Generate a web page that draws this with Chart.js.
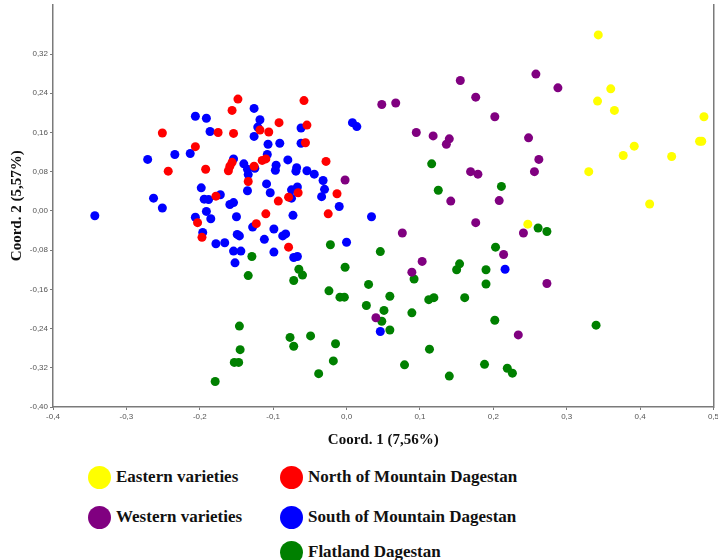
<!DOCTYPE html>
<html>
<head>
<meta charset="utf-8">
<script src="https://cdn.jsdelivr.net/npm/chart.js@4.4.1/dist/chart.umd.min.js"></script>
<style>
  html, body { margin: 0; padding: 0; background: #fff; }
  body { width: 718px; height: 560px; position: relative; overflow: hidden; }
  #plot { position: absolute; left: 0; top: 0; }
  .lg-item { position: absolute; height: 24px; display: flex; align-items: center;
             font-family: "Liberation Serif", "Times New Roman", serif; font-weight: bold;
             font-size: 17px; color: #111; white-space: nowrap; }
  .lg-dot { width: 23px; height: 23px; border-radius: 50%; margin-right: 5px; flex: none; }
</style>
</head>
<body>
<canvas id="plot" width="718" height="455"></canvas>
<div id="legend"></div>
<script>
// tick values
const xTicks = [-0.4, -0.3, -0.2, -0.1, 0.0, 0.1, 0.2, 0.3, 0.4, 0.5];
const yTicks = [-0.40, -0.32, -0.24, -0.16, -0.08, 0.00, 0.08, 0.16, 0.24, 0.32];

const groupNames = ["Eastern varieties", "Western varieties", "North of Mountain Dagestan",
                    "South of Mountain Dagestan", "Flatland Dagestan"];
const groupColors = ["#ffff00", "#800080", "#ff0000", "#0000ff", "#008000"];

// [coord1, coord2]
const eastern = [
  [0.343, 0.359], [0.360, 0.249], [0.342, 0.224], [0.365, 0.205], [0.487, 0.192],
  [0.481, 0.142], [0.484, 0.142], [0.392, 0.132], [0.377, 0.113], [0.443, 0.111],
  [0.330, 0.080], [0.413, 0.014], [0.247, -0.027]
];
const western = [
  [0.048, 0.217], [0.067, 0.220], [0.095, 0.160], [0.118, 0.153], [0.140, 0.147],
  [0.136, 0.136], [-0.002, 0.063], [0.142, 0.020], [0.076, -0.045], [0.103, -0.103],
  [0.176, -0.024], [0.089, -0.125], [0.040, -0.218], [0.208, 0.021], [0.241, -0.045],
  [0.214, -0.089], [0.273, -0.148], [0.234, -0.253], [0.258, 0.279], [0.288, 0.251],
  [0.155, 0.266], [0.176, 0.232], [0.202, 0.192], [0.248, 0.149], [0.262, 0.105],
  [0.256, 0.080], [0.169, 0.080], [0.179, 0.075]
];
const north = [
  [-0.251, 0.159], [-0.243, 0.081], [-0.206, 0.131], [-0.192, 0.085], [-0.175, 0.160],
  [-0.156, 0.205], [-0.154, 0.158], [-0.148, 0.228], [-0.161, 0.082], [-0.159, 0.091],
  [-0.156, 0.099], [-0.178, 0.030], [-0.203, -0.024], [-0.197, -0.054], [-0.118, 0.165],
  [-0.106, 0.161], [-0.092, 0.180], [-0.126, 0.091], [-0.115, 0.103], [-0.110, 0.106],
  [-0.134, 0.060], [-0.110, -0.006], [-0.123, -0.026], [-0.058, 0.225], [-0.054, 0.175],
  [-0.056, 0.139], [-0.028, 0.101], [-0.079, 0.028], [-0.066, 0.037], [-0.093, 0.020],
  [-0.013, 0.035], [-0.025, -0.006], [-0.079, -0.074]
];
const south = [
  [-0.126, 0.209], [-0.206, 0.193], [-0.191, 0.189], [-0.118, 0.186], [-0.121, 0.171],
  [-0.186, 0.162], [-0.126, 0.152], [-0.107, 0.136], [-0.091, 0.138], [-0.234, 0.115],
  [-0.213, 0.117], [-0.271, 0.105], [-0.154, 0.106], [-0.108, 0.115], [-0.140, 0.096],
  [-0.135, 0.085], [-0.134, 0.074], [-0.125, 0.087], [-0.097, 0.083], [-0.096, 0.093],
  [-0.135, 0.041], [-0.109, 0.055], [-0.104, 0.037], [-0.198, 0.047], [-0.194, 0.024],
  [-0.188, 0.023], [-0.172, 0.033], [-0.159, 0.013], [-0.154, 0.017], [-0.263, 0.026],
  [-0.251, 0.006], [-0.343, -0.010], [-0.206, -0.013], [-0.191, -0.001], [-0.185, -0.016],
  [-0.150, -0.012], [-0.128, -0.033], [-0.099, -0.037], [-0.196, -0.044], [-0.149, -0.048],
  [-0.146, -0.051], [-0.112, -0.058], [-0.178, -0.067], [-0.166, -0.065], [-0.154, -0.082],
  [-0.144, -0.082], [-0.099, -0.084], [-0.152, -0.106], [0.008, 0.180], [0.014, 0.172],
  [-0.062, 0.169], [-0.062, 0.138], [-0.080, 0.104], [-0.068, 0.088], [-0.069, 0.081],
  [-0.054, 0.082], [-0.044, 0.075], [-0.032, 0.062], [-0.030, 0.044], [-0.034, 0.029],
  [-0.075, 0.043], [-0.067, 0.049], [-0.075, 0.026], [-0.010, 0.009], [-0.073, -0.009],
  [0.034, -0.012], [-0.087, -0.051], [-0.083, -0.047], [-0.072, -0.095], [-0.067, -0.093],
  [0.000, -0.064], [0.046, -0.246], [0.216, -0.119]
];
const flatland = [
  [-0.129, -0.093], [-0.134, -0.132], [-0.146, -0.235], [-0.145, -0.283], [-0.153, -0.309],
  [-0.147, -0.309], [-0.179, -0.348], [-0.022, -0.069], [0.046, -0.083], [-0.065, -0.119],
  [-0.060, -0.131], [-0.072, -0.142], [-0.002, -0.115], [-0.024, -0.163], [-0.009, -0.176],
  [-0.003, -0.176], [0.030, -0.150], [0.059, -0.174], [0.027, -0.193], [0.051, -0.203],
  [0.048, -0.225], [0.059, -0.243], [0.092, -0.139], [0.154, -0.108], [0.150, -0.120],
  [0.190, -0.120], [0.190, -0.149], [0.112, -0.181], [0.119, -0.177], [0.161, -0.177],
  [0.089, -0.208], [-0.077, -0.258], [-0.072, -0.276], [-0.049, -0.255], [-0.015, -0.271],
  [-0.018, -0.306], [-0.038, -0.332], [0.079, -0.314], [0.113, -0.282], [0.140, -0.337],
  [0.188, -0.313], [0.116, 0.096], [0.125, 0.042], [0.211, 0.050], [0.261, -0.035],
  [0.273, -0.042], [0.203, -0.074], [0.202, -0.223], [0.340, -0.233], [0.219, -0.321],
  [0.226, -0.331]
];

const groups = [eastern, western, north, south, flatland];
const drawOrder = [1, 2, 3, 4, 5]; // lower = drawn on top

const axisColor = "#7a7a7a";
const tickFont = { family: "Liberation Sans", size: 8 };
const titleFont = { family: "Liberation Serif", size: 15, weight: "bold" };

const chart = new Chart(document.getElementById("plot"), {
  type: "scatter",
  data: {
    datasets: groups.map((pts, i) => ({
      label: groupNames[i],
      data: pts.map((p) => ({ x: p[0], y: p[1] })),
      backgroundColor: groupColors[i],
      borderWidth: 0,
      pointRadius: 4.5,
      pointHoverRadius: 4.5,
      order: drawOrder[i],
    })),
  },
  options: {
    responsive: false,
    animation: false,
    devicePixelRatio: 1,
    layout: { padding: 0 },
    plugins: { legend: { display: false }, tooltip: { enabled: false } },
    scales: {
      x: {
        type: "linear",
        min: -0.4,
        max: 0.5,
        afterBuildTicks: (s) => { s.ticks = xTicks.map((v) => ({ value: v })); },
        afterFit: (s) => { s.height = 48; s.paddingLeft = 0; s.paddingRight = 0; },
        ticks: {
          color: "#555",
          font: tickFont,
          padding: 2,
          autoSkip: false,
          maxRotation: 0,
          callback: (v) => v.toFixed(1).replace(".", ","),
        },
        grid: { drawOnChartArea: false, tickLength: 3, color: axisColor },
        border: { color: axisColor, width: 1.5 },
        title: {
          display: true,
          text: "Coord. 1 (7,56%)",
          font: titleFont,
          color: "#111",
          padding: { top: 0, bottom: 6 },
        },
      },
      y: {
        type: "linear",
        min: -0.40,
        max: 0.421,
        afterBuildTicks: (s) => { s.ticks = yTicks.map((v) => ({ value: v })); },
        afterFit: (s) => { s.width = 53; s.paddingTop = 0; s.paddingBottom = 0; },
        ticks: {
          color: "#555",
          font: tickFont,
          padding: 2,
          callback: (v) => v.toFixed(2).replace(".", ","),
        },
        grid: { drawOnChartArea: false, tickLength: 3, color: axisColor },
        border: { color: axisColor, width: 1.5 },
        title: {
          display: true,
          text: "Coord. 2 (5,57%)",
          font: titleFont,
          color: "#111",
          padding: { top: 8, bottom: 0 },
        },
      },
      yRight: {
        type: "linear",
        position: "right",
        min: -0.40,
        max: 0.421,
        afterFit: (s) => { s.width = 2; s.paddingTop = 0; s.paddingBottom = 0; },
        ticks: { display: false },
        grid: { display: false },
        border: { color: axisColor, width: 1.5 },
      },
    },
  },
});

// legend below the plot, two columns
const legendPos = [
  [88, 465], [88, 505], [280, 465], [280, 505], [280, 540]
];
const legend = document.getElementById("legend");
groupNames.forEach((name, i) => {
  const item = document.createElement("div");
  item.className = "lg-item";
  item.style.left = legendPos[i][0] + "px";
  item.style.top = legendPos[i][1] + "px";
  item.innerHTML = `<span class="lg-dot" style="background:${groupColors[i]}"></span>${name}`;
  legend.appendChild(item);
});
</script>
</body>
</html>
